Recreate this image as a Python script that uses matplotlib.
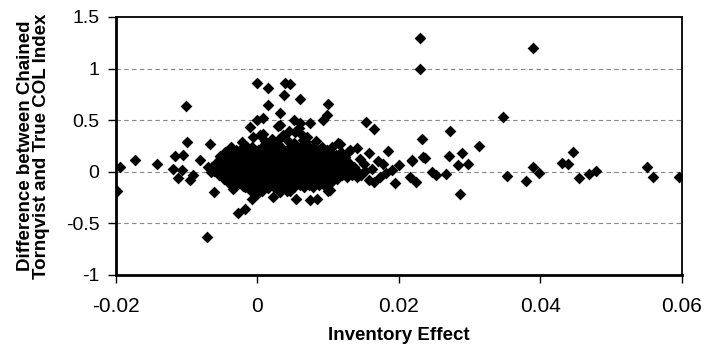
#!/usr/bin/env python3
import matplotlib
matplotlib.use("Agg")
import matplotlib.pyplot as plt

# scattered points (inventory effect, COL difference)
sparse_x = [
    -0.0199, -0.0194, -0.0173, -0.0142, -0.0101, -0.0100, -0.0117, -0.0105, -0.0119, -0.0112,
    -0.0107, -0.0095, -0.0091, -0.0081, -0.0067, -0.0072, -0.0062, -0.0070, -0.0066, -0.0053,
    -0.0027, -0.0018, -0.0034, -0.0020, -0.0008, -0.0001, 0.0015, 0.0039, 0.0046, 0.0038,
    0.0060, 0.0015, 0.0099, 0.0098, 0.0093, -0.0011, -0.0001, 0.0008, 0.0032, 0.0032,
    0.0051, 0.0060, 0.0074, 0.0070, 0.0008, -0.0006, -0.0015, 0.0055, 0.0074, 0.0084,
    0.0100, 0.0117, 0.0128, 0.0119,
    0.0230, 0.0230, 0.0389, 0.0347, 0.0154, 0.0165, 0.0233, 0.0272, 0.0313, 0.0185,
    0.0289, 0.0270, 0.0297, 0.0219, 0.0234, 0.0200, 0.0190, 0.0194, 0.0216, 0.0224,
    0.0246, 0.0253, 0.0267, 0.0286, 0.0352, 0.0380, 0.0390, 0.0398, 0.0430, 0.0439,
    0.0446, 0.0455, 0.0469, 0.0479, 0.0550, 0.0559, 0.0596, 0.0164, 0.0173, 0.0140,
    0.0131, 0.0140, 0.0157, 0.0178,
    0.0029, 0.0053, 0.0062, 0.0065, 0.0004, 0.0020, 0.0029, 0.0013, 0.0041, 0.0048,
    0.0074, 0.0088, 0.0114, -0.0044, -0.0034, -0.0020, -0.0001, 0.0022, 0.0015, 0.0098,
    0.0102, 0.0041, 0.0032, 0.0112, 0.0218, 0.0237, 0.0283, 0.0102,
    0.0150, 0.0162, 0.0170, 0.0145, 0.0158, 0.0182,
    0.0045, 0.0052, 0.0036, 0.0058, 0.0068, 0.0024, 0.0083, 0.0010, -0.0022,
]
sparse_y = [
    -0.19, 0.05, 0.11, 0.08, 0.64, 0.29, 0.15, 0.16, 0.03, -0.06,
    0.02, -0.08, -0.03, 0.11, 0.27, -0.63, -0.20, 0.05, 0.00, 0.15,
    -0.40, -0.36, -0.17, -0.14, -0.26, 0.86, 0.81, 0.86, 0.85, 0.74,
    0.71, 0.65, 0.66, 0.55, 0.50, 0.43, 0.50, 0.52, 0.57, 0.45,
    0.50, 0.47, 0.47, 0.34, 0.37, 0.34, 0.24, -0.26, -0.27, -0.26,
    -0.19, 0.27, 0.19, -0.01,
    1.30, 1.00, 1.20, 0.53, 0.48, 0.41, 0.32, 0.40, 0.25, 0.20,
    0.18, 0.15, 0.08, 0.10, 0.14, 0.07, 0.02, -0.11, -0.05, -0.10,
    0.00, -0.03, -0.02, -0.22, -0.04, -0.09, 0.05, -0.01, 0.09, 0.08,
    0.19, -0.06, -0.02, 0.01, 0.05, -0.05, -0.05, -0.10, -0.05, -0.05,
    0.21, 0.23, 0.18, 0.08,
    0.44, 0.39, 0.37, 0.31, 0.36, 0.32, 0.31, 0.28, 0.31, 0.24,
    0.23, 0.21, 0.28, 0.19, 0.18, -0.13, -0.22, -0.24, -0.16, -0.16,
    -0.11, -0.19, -0.20, 0.11, 0.11, 0.13, 0.07, -0.18,
    0.08, 0.03, 0.10, 0.12, -0.08, -0.01,
    0.40, 0.28, 0.36, 0.42, 0.29, 0.27, 0.30, 0.30, 0.29,
]

# dense core around zero, read row by row
core_levels = [0.24, 0.19, 0.14, 0.09, 0.05, 0.01, -0.03, -0.07, -0.11, -0.15, -0.19,
               0.215, 0.165, 0.115, 0.07, 0.03, -0.01, -0.05, -0.09, -0.13]
core_x_by_level = [
    [-0.0038, -0.0021, -0.0008, 0.0006, 0.0019, 0.0033, 0.0047, 0.0061, 0.0078, 0.0091, 0.0106],
    [-0.0046, -0.0031, -0.0017, -0.0004, 0.0009, 0.0022, 0.0036, 0.0049, 0.0063, 0.0076,
     0.0089, 0.0103, 0.0118],
    [-0.0051, -0.0039, -0.0026, -0.0012, 0.0001, 0.0014, 0.0027, 0.0041, 0.0054, 0.0068,
     0.0081, 0.0095, 0.0109, 0.0123],
    [-0.0058, -0.0044, -0.0031, -0.0018, -0.0005, 0.0008, 0.0021, 0.0035, 0.0048, 0.0062,
     0.0075, 0.0088, 0.0102, 0.0116, 0.0129],
    [-0.0064, -0.0049, -0.0036, -0.0023, -0.0010, 0.0003, 0.0016, 0.0029, 0.0043, 0.0056,
     0.0070, 0.0083, 0.0097, 0.0110, 0.0124, 0.0137],
    [-0.0061, -0.0046, -0.0033, -0.0020, -0.0007, 0.0006, 0.0019, 0.0032, 0.0046, 0.0059,
     0.0073, 0.0086, 0.0099, 0.0113, 0.0127, 0.0141, 0.0152],
    [-0.0055, -0.0041, -0.0028, -0.0015, -0.0002, 0.0011, 0.0024, 0.0038, 0.0051, 0.0065,
     0.0078, 0.0091, 0.0105, 0.0119, 0.0133, 0.0147],
    [-0.0047, -0.0034, -0.0021, -0.0008, 0.0005, 0.0018, 0.0031, 0.0045, 0.0058, 0.0072,
     0.0085, 0.0099, 0.0112],
    [-0.0040, -0.0026, -0.0013, 0.0000, 0.0013, 0.0026, 0.0040, 0.0053, 0.0067, 0.0080, 0.0094],
    [-0.0018, -0.0004, 0.0010, 0.0024, 0.0037, 0.0051, 0.0066, 0.0079],
    [-0.0009, 0.0006, 0.0030, 0.0046],
    [-0.0030, -0.0015, 0.0001, 0.0013, 0.0027, 0.0041, 0.0055, 0.0069, 0.0084, 0.0098],
    [-0.0040, -0.0024, -0.0010, 0.0003, 0.0016, 0.0029, 0.0043, 0.0056, 0.0070, 0.0083,
     0.0096, 0.0111],
    [-0.0045, -0.0032, -0.0019, -0.0006, 0.0007, 0.0020, 0.0034, 0.0047, 0.0061, 0.0074,
     0.0088, 0.0102, 0.0116],
    [-0.0051, -0.0038, -0.0025, -0.0012, 0.0002, 0.0015, 0.0028, 0.0042, 0.0055, 0.0069,
     0.0082, 0.0095, 0.0109, 0.0122],
    [-0.0056, -0.0042, -0.0029, -0.0016, -0.0003, 0.0010, 0.0023, 0.0036, 0.0050, 0.0063,
     0.0077, 0.0090, 0.0104, 0.0118, 0.0132],
    [-0.0053, -0.0040, -0.0027, -0.0013, 0.0000, 0.0013, 0.0026, 0.0039, 0.0053, 0.0066,
     0.0080, 0.0093, 0.0107, 0.0121, 0.0135],
    [-0.0049, -0.0035, -0.0022, -0.0009, 0.0004, 0.0017, 0.0031, 0.0044, 0.0058, 0.0071,
     0.0085, 0.0098, 0.0112, 0.0126],
    [-0.0041, -0.0027, -0.0014, -0.0001, 0.0012, 0.0025, 0.0038, 0.0052, 0.0065, 0.0079,
     0.0092, 0.0105],
    [-0.0032, -0.0019, -0.0006, 0.0007, 0.0020, 0.0033, 0.0046, 0.0060, 0.0073, 0.0087],
]

x_ticks = [-0.02, 0, 0.02, 0.04, 0.06]
x_tick_labels = ["-0.02", "0", "0.02", "0.04", "0.06"]
y_ticks = [-1, -0.5, 0, 0.5, 1, 1.5]
y_tick_labels = ["-1", "-0.5", "0", "0.5", "1", "1.5"]


def main():
    plt.rcParams["font.family"] = ["Liberation Sans", "DejaVu Sans"]

    xs = list(sparse_x)
    ys = list(sparse_y)
    for level, row in zip(core_levels, core_x_by_level):
        xs.extend(row)
        ys.extend([level] * len(row))

    fig = plt.figure(figsize=(7.06, 3.54), dpi=100)
    ax = fig.add_axes([0.1643, 0.2232, 0.8017, 0.7288])

    for yv in [-0.5, 0, 0.5, 1]:
        ax.axhline(yv, color="#888888", linestyle=(0, (4, 3)), linewidth=0.8, zorder=0)

    ax.scatter(xs, ys, marker="D", s=36, color="black", linewidths=0, zorder=3)

    ax.set_xlim(-0.02, 0.06)
    ax.set_ylim(-1, 1.5)
    ax.set_xticks(x_ticks)
    ax.set_xticklabels(x_tick_labels)
    ax.set_yticks(y_ticks)
    ax.set_yticklabels(y_tick_labels)
    ax.tick_params(axis="x", labelsize=15, length=6, width=1, pad=10, direction="out")
    ax.tick_params(axis="y", labelsize=14, length=6, width=1, pad=6, direction="out")

    for side in ["left", "bottom"]:
        ax.spines[side].set_linewidth(2)
    for side in ["top", "right"]:
        ax.spines[side].set_linewidth(1.3)

    ax.set_xlabel("Inventory Effect", fontsize=13.5, fontweight="bold", labelpad=8)
    ax.set_ylabel("Difference between Chained\nTornqvist and True COL Index",
                  fontsize=13.5, fontweight="bold", linespacing=0.95, labelpad=11)

    fig.savefig("out.png", dpi=100)
    plt.close(fig)


if __name__ == "__main__":
    main()
